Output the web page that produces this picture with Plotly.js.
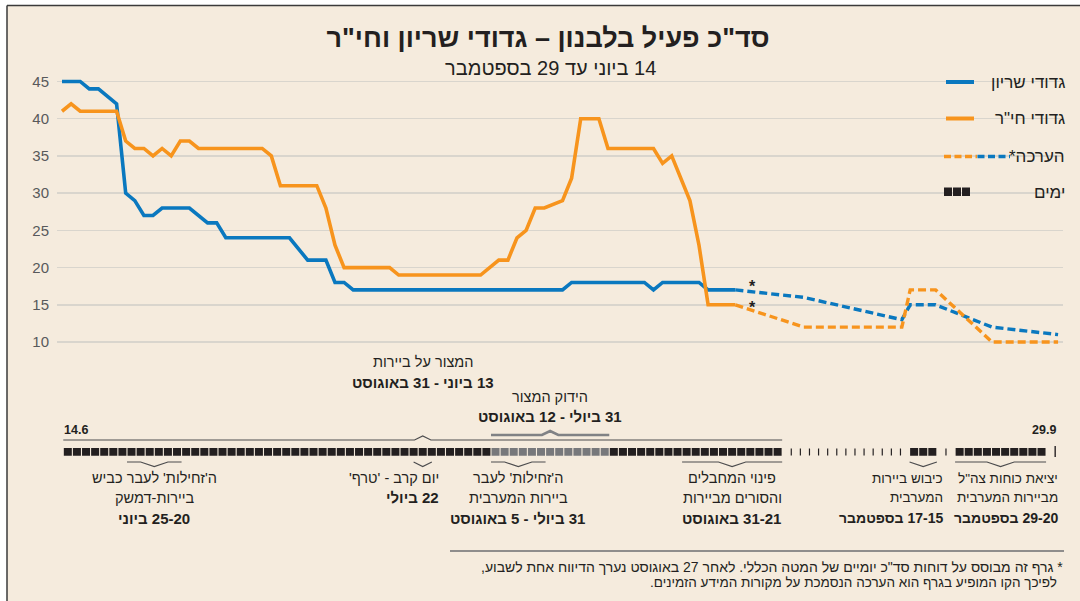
<!DOCTYPE html>
<html><head><meta charset="utf-8">
<script src="https://cdn.plot.ly/plotly-3.0.1.min.js"></script>
<style>
html,body{margin:0;padding:0;background:#ffffff;}
#chart{width:1080px;height:601px;}
#chart .annotation-text, #chart .gtitle{direction:rtl;}
</style>
</head><body><div id="chart"></div>
<script>
// ---------------- DATA ----------------
const armorDates = ['1982-06-14','1982-06-16','1982-06-17','1982-06-18','1982-06-20','1982-06-21','1982-06-22','1982-06-23','1982-06-24','1982-06-25','1982-06-28','1982-06-30','1982-07-01','1982-07-02','1982-07-09','1982-07-11','1982-07-13','1982-07-14','1982-07-15','1982-07-16','1982-08-08','1982-08-09','1982-08-17','1982-08-18','1982-08-19','1982-08-23','1982-08-24','1982-08-27'];
const armorValues = [45,45,44,44,42,30,29,27,27,28,28,26,26,24,24,21,21,18,18,17,17,18,18,17,18,18,17,17];

const infantryDates = ['1982-06-14','1982-06-15','1982-06-16','1982-06-20','1982-06-21','1982-06-22','1982-06-23','1982-06-24','1982-06-25','1982-06-26','1982-06-27','1982-06-28','1982-06-29','1982-07-06','1982-07-07','1982-07-08','1982-07-12','1982-07-13','1982-07-14','1982-07-15','1982-07-20','1982-07-21','1982-07-30','1982-08-01','1982-08-02','1982-08-03','1982-08-04','1982-08-05','1982-08-06','1982-08-08','1982-08-09','1982-08-10','1982-08-12','1982-08-13','1982-08-18','1982-08-19','1982-08-20','1982-08-22','1982-08-23','1982-08-24','1982-08-27'];
const infantryValues = [41,42,41,41,37,36,36,35,36,35,37,37,36,36,35,31,31,28,23,20,20,19,19,21,21,24,25,28,28,29,32,40,40,36,36,34,35,29,23,15,15];

const estimateDates = ['1982-08-27','1982-09-03 12:00','1982-09-14 07:00','1982-09-15 05:00','1982-09-18 00:00','1982-09-24 05:00','1982-10-01 11:00'];
const armorEstimateValues = [17,16,13,15,15,12,11];
const infantryEstimateValues = [15,12,12,17,17,10,10];

const yTickValues = [10,15,20,25,30,35,40,45];
const legendLabels = ['גדודי שריון','גדודי חי"ר','הערכה*','ימים'];

// timeline of daily reports
const dailyFrom = ['1982-06-14','1982-09-15','1982-09-20'];
const dailyTo   = ['1982-08-31','1982-09-17','1982-09-29'];
const tightSiegeFrom = '1982-07-31';
const tightSiegeTo   = '1982-08-12';
const noReportMarks = ['1982-09-02','1982-09-03','1982-09-04','1982-09-05','1982-09-06','1982-09-07','1982-09-08','1982-09-09','1982-09-10','1982-09-11','1982-09-12','1982-09-13','1982-09-14','1982-09-19'];
const timelineEndMark = '1982-10-01';
const timelineStartLabel = '14.6';
const timelineEndLabel = '29.9';

// events above the timeline
const aboveFrom  = ['1982-06-14','1982-07-31'];
const aboveTo    = ['1982-08-31','1982-08-12'];
const aboveLine1 = ['המצור על ביירות','הידוק המצור'];
const aboveLine2 = ['13 ביוני - 31 באוגוסט','31 ביולי - 12 באוגוסט'];

// events below the timeline
const belowFrom  = ['1982-06-21','1982-07-22 12:00','1982-07-31','1982-08-21','1982-09-15','1982-09-20'];
const belowTo    = ['1982-06-26','1982-07-23 12:00','1982-08-05','1982-08-31','1982-09-17','1982-09-29'];
const belowLine1 = ["ה'זחילות' לעבר כביש","יום קרב - 'טרף'","ה'זחילות' לעבר",'פינוי המחבלים','כיבוש ביירות','יציאת כוחות צה"ל'];
const belowLine2 = ['ביירות-דמשק','',"ביירות המערבית",'והסורים מביירות','המערבית','מביירות המערבית'];
const belowLine3 = ['25-20 ביוני','22 ביולי','31 ביולי - 5 באוגוסט','31-21 באוגוסט','17-15 בספטמבר','29-20 בספטמבר'];

const titleText = 'סד"כ פעיל בלבנון – גדודי שריון וחי"ר';
const subtitleText = '14 ביוני עד 29 בספטמבר';
const footnote1 = '* גרף זה מבוסס על דוחות סד"כ יומיים של המטה הכללי. לאחר 27 באוגוסט נערך הדיווח אחת לשבוע,';
const footnote2 = 'לפיכך הקו המופיע בגרף הוא הערכה הנסמכת על מקורות המידע הזמינים.';

// ---------------- HELPERS ----------------
const DAY0 = Date.UTC(1982,5,14);
function dayIndex(s){
  const parts = s.split(' ');
  const [Y,M,D] = parts[0].split('-').map(Number);
  let h=0,m=0; if(parts[1]){ [h,m] = parts[1].split(':').map(Number); }
  return (Date.UTC(Y,M-1,D,h,m) - DAY0) / 864e5;
}
const FONT = 'Liberation Sans, Arial, sans-serif';
const PL = 57, PR = 1063, FH = 601, FW = 1080;
const PXDAY = 9.1;
const pxX = px => (px - PL) / (PR - PL);
const pxY = py => (FH - py) / FH;
const SQ = 0.14;          // offset of the day squares relative to the line grid
const SQTOP = 448, SQH = 7.8;

const BLUE = '#0a78bf', ORANGE = '#f7941d', INK = '#231f20';

// ---------------- TRACES ----------------
const traces = [];
traces.push({x: armorDates.map(dayIndex), y: armorValues, mode:'lines', line:{color:BLUE, width:3.6}, hoverinfo:'skip'});
traces.push({x: infantryDates.map(dayIndex), y: infantryValues, mode:'lines', line:{color:ORANGE, width:3.6}, hoverinfo:'skip'});
traces.push({x: estimateDates.map(dayIndex), y: armorEstimateValues, mode:'lines', line:{color:BLUE, width:3.4, dash:'8px,4px'}, hoverinfo:'skip'});
traces.push({x: estimateDates.map(dayIndex), y: infantryEstimateValues, mode:'lines', line:{color:ORANGE, width:3.4, dash:'8px,4px'}, hoverinfo:'skip'});

// day squares
const tsFrom = dayIndex(tightSiegeFrom), tsTo = dayIndex(tightSiegeTo);
const blackX = [], greyX = [];
dailyFrom.forEach((f,i)=>{
  for(let d = dayIndex(f); d <= dayIndex(dailyTo[i]); d++){
    if(d >= tsFrom && d <= tsTo) greyX.push(d + SQ + 0.5); else blackX.push(d + SQ + 0.5);
  }
});
traces.push({type:'bar', x: blackX, y: blackX.map(()=>SQH), base: SQTOP, width: 0.88, xaxis:'x', yaxis:'y2', marker:{color:INK, line:{width:0}}, hoverinfo:'skip'});
traces.push({type:'bar', x: greyX, y: greyX.map(()=>SQH), base: SQTOP, width: 0.88, xaxis:'x', yaxis:'y2', marker:{color:'#77787b', line:{width:0}}, hoverinfo:'skip'});
const tickX = noReportMarks.map(s => dayIndex(s) + SQ);
traces.push({type:'bar', x: tickX, y: tickX.map(()=>7), base: SQTOP+0.5, width: 0.13, xaxis:'x', yaxis:'y2', marker:{color:INK, line:{width:0}}, hoverinfo:'skip'});
traces.push({type:'bar', x: [dayIndex(timelineEndMark)+SQ], y: [11], base: SQTOP-2, width: 0.15, xaxis:'x', yaxis:'y2', marker:{color:INK, line:{width:0}}, hoverinfo:'skip'});

// brackets
function bracket(f, t, y, dir, hw, depth){
  const x0 = dayIndex(f) + SQ, x1 = dayIndex(t) + 1 + SQ, mid = (x0 + x1) / 2;
  const h = Math.min(hw, (x1-x0)/2);
  return {x:[x0, mid-h, mid, mid+h, x1, null], y:[y, y, y + dir*depth, y, y, null], mid, x0, x1};
}
const topB = bracket(aboveFrom[0], aboveTo[0], 440, -1, 0.9, 4);
traces.push({x: topB.x, y: topB.y, xaxis:'x', yaxis:'y2', mode:'lines', line:{color:'#4d4d4f', width:1.2}, hoverinfo:'skip'});
const tightB = bracket(aboveFrom[1], aboveTo[1], 435, -1, 0.9, 4);
traces.push({x: tightB.x, y: tightB.y, xaxis:'x', yaxis:'y2', mode:'lines', line:{color:'#808285', width:2.6}, hoverinfo:'skip'});
const lowBx = [], lowBy = [], lowMid = [];
belowFrom.forEach((f,i)=>{
  const b = bracket(f, belowTo[i], 462, 1, 1.5, 4.5);
  lowBx.push(...b.x); lowBy.push(...b.y); lowMid.push(b.mid);
});
traces.push({x: lowBx, y: lowBy, xaxis:'x', yaxis:'y2', mode:'lines', line:{color:'#4d4d4f', width:1.2}, hoverinfo:'skip'});

// ---------------- ANNOTATIONS ----------------
const ann = [];
function txt(x, y, text, opt){
  return Object.assign({x, y, text, showarrow:false, xanchor:'center', yanchor:'middle', borderpad:0,
    font:{family:FONT, size:15, color:'#231f20'}}, opt||{});
}
ann.push(txt(pxX(550), pxY(68), subtitleText, {xref:'paper', yref:'paper', font:{family:FONT, size:20, color:'#231f20'}}));
// above events
[topB, tightB].forEach((b,i)=>{
  const y1 = i===0 ? 362 : 397, y2 = i===0 ? 382 : 416;
  ann.push(txt(b.mid, y1, aboveLine1[i], {xref:'x', yref:'y2', font:{family:FONT, size:14.5, color:'#231f20'}}));
  ann.push(txt(b.mid, y2, '<b>'+aboveLine2[i]+'</b>', {xref:'x', yref:'y2', font:{family:FONT, size:15, color:'#231f20'}}));
});
ann.push(txt(topB.x0, 430, '<b>'+timelineStartLabel+'</b>', {xref:'x', yref:'y2', xanchor:'left', font:{family:FONT, size:12.5, color:'#231f20'}}));
ann.push(txt(dayIndex(timelineEndMark)+SQ+0.2, 430, '<b>'+timelineEndLabel+'</b>', {xref:'x', yref:'y2', xanchor:'right', font:{family:FONT, size:12.5, color:'#231f20'}}));
// below events: x in pixels of the text anchor (centre, or right edge for right-aligned groups)
const belowAnchorPx = [null, 440, null, null, 944, 1059];
const belowSize = [14.5, 14.5, 14.5, 14.5, 13.5, 13.5];
belowLine1.forEach((l1,i)=>{
  const right = belowAnchorPx[i] !== null;
  const xa = right ? 'right' : 'center';
  const xp = right ? (belowAnchorPx[i] - 62) / PXDAY : lowMid[i];
  const f = {family:FONT, size:belowSize[i], color:'#231f20'};
  ann.push(txt(xp, 478, l1, {xref:'x', yref:'y2', xanchor:xa, font:f}));
  if(belowLine2[i]) ann.push(txt(xp, 497.5, belowLine2[i], {xref:'x', yref:'y2', xanchor:xa, font:f}));
  ann.push(txt(xp, belowLine2[i] ? 518 : 497.5, '<b>'+belowLine3[i]+'</b>', {xref:'x', yref:'y2', xanchor:xa, font:{family:FONT, size:belowSize[i]+0.5, color:'#231f20'}}));
});
// asterisks at the start of the estimate
const estStart = dayIndex(estimateDates[0]) + 1.9;
ann.push(txt(estStart, armorEstimateValues[0], '<b>*</b>', {xref:'x', yref:'y', yshift:3, font:{family:FONT, size:16, color:'#231f20'}}));
ann.push(txt(estStart, infantryEstimateValues[0], '<b>*</b>', {xref:'x', yref:'y', yshift:-3, font:{family:FONT, size:16, color:'#231f20'}}));
// legend texts
const legY = [82, 118.5, 156.5, 192];
legendLabels.forEach((l,i)=>{
  ann.push(txt(pxX(1066), pxY(legY[i]), l, {xref:'paper', yref:'paper', xanchor:'right', font:{family:FONT, size:17, color:'#231f20'}}));
});
// footnote
ann.push(txt(pxX(1064), pxY(567), footnote1, {xref:'paper', yref:'paper', xanchor:'right', font:{family:FONT, size:14, color:'#231f20'}}));
ann.push(txt(pxX(1058), pxY(582), footnote2, {xref:'paper', yref:'paper', xanchor:'right', font:{family:FONT, size:13.5, color:'#231f20'}}));

// ---------------- SHAPES (frame, legend samples, footnote rule) ----------------
const P = (o)=>Object.assign({xref:'paper', yref:'paper'}, o);
const shapes = [
  P({type:'rect', x0:pxX(7), x1:pxX(FW), y0:pxY(FH), y1:pxY(5.5), fillcolor:'#f5ebdd', line:{width:0}, layer:'below'}),
  P({type:'line', x0:pxX(7), x1:pxX(FW), y0:pxY(5.5), y1:pxY(5.5), line:{color:'#3a3a3a', width:1.5}}),
  P({type:'line', x0:pxX(7), x1:pxX(7), y0:pxY(5.5), y1:pxY(FH), line:{color:'#3a3a3a', width:1.5}}),
  P({type:'line', x0:pxX(946), x1:pxX(974), y0:pxY(legY[0]), y1:pxY(legY[0]), line:{color:BLUE, width:4}}),
  P({type:'line', x0:pxX(946), x1:pxX(974), y0:pxY(legY[1]), y1:pxY(legY[1]), line:{color:ORANGE, width:4}}),
  P({type:'line', x0:pxX(944), x1:pxX(977), y0:pxY(legY[2]), y1:pxY(legY[2]), line:{color:ORANGE, width:3.4, dash:'7px,3.5px'}}),
  P({type:'line', x0:pxX(977.5), x1:pxX(1010), y0:pxY(legY[2]), y1:pxY(legY[2]), line:{color:BLUE, width:3.4, dash:'7px,3.5px'}}),
  P({type:'rect', x0:pxX(944), x1:pxX(952), y0:pxY(196), y1:pxY(187.5), fillcolor:INK, line:{width:0}}),
  P({type:'rect', x0:pxX(953), x1:pxX(961), y0:pxY(196), y1:pxY(187.5), fillcolor:INK, line:{width:0}}),
  P({type:'rect', x0:pxX(962), x1:pxX(970), y0:pxY(196), y1:pxY(187.5), fillcolor:INK, line:{width:0}}),
  P({type:'line', x0:pxX(450), x1:pxX(1064), y0:pxY(551), y1:pxY(551), line:{color:'#6d6e71', width:1.3}})
];

// ---------------- LAYOUT ----------------
const layout = {
  width: FW, height: FH,
  paper_bgcolor:'#ffffff', plot_bgcolor:'rgba(0,0,0,0)',
  margin:{l:PL, r:FW-PR, t:0, b:0, pad:0},
  showlegend:false, barmode:'overlay', hovermode:false,
  title:{text: '<b>'+titleText+'</b>', x:548/FW, xanchor:'center', y:1-38/FH, yanchor:'middle',
         font:{family:'Liberation Sans Narrow, Liberation Sans, Arial, sans-serif', size:27, color:'#231f20'}},
  xaxis:{domain:[0,1], range:[-0.549, 110.0], showgrid:false, zeroline:false, showticklabels:false, ticks:'', showline:false},
  yaxis:{domain:[(FH-353.2)/FH, (FH-70.3)/FH], range:[8.5,46.5], tickvals:yTickValues, ticktext:yTickValues.map(String),
         showgrid:true, gridcolor:'#d9d5cd', gridwidth:1.5, zeroline:false, showline:false, ticks:'',
         ticklabelstandoff:7, tickfont:{family:FONT, size:15, color:'#58595b'}},
  yaxis2:{domain:[0, 0.41], range:[FH, FH - 0.41*FH], showgrid:false, zeroline:false, showticklabels:false, ticks:'', showline:false, anchor:'x'},
  annotations: ann,
  shapes: shapes
};
Plotly.newPlot('chart', traces, layout, {staticPlot:true, displayModeBar:false});
</script>
</body></html>
